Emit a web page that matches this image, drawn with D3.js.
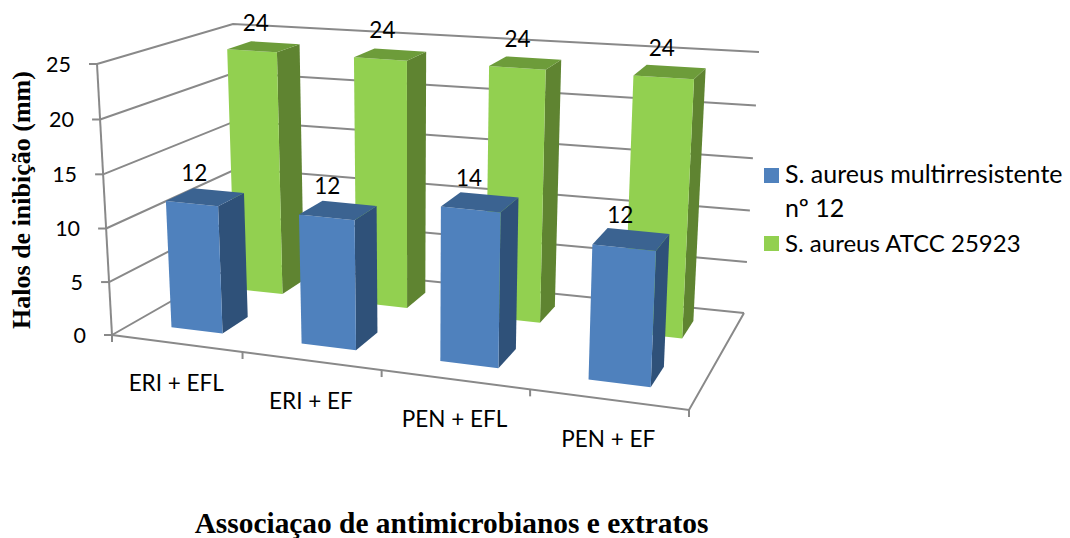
<!DOCTYPE html>
<html>
<head>
<meta charset="utf-8">
<title>Halos de inibição</title>
<script src="https://cdn.jsdelivr.net/npm/d3@7"></script>
<style>
  html, body { margin: 0; padding: 0; background: #fff; }
  svg { display: block; }
  text { font-family: Lato, "Open Sans", sans-serif; fill: #000; }
  .title { font-family: "Liberation Serif", serif; font-weight: bold; }
</style>
</head>
<body>
<svg width="1070" height="538"></svg>
<script>
const categories = ['ERI + EFL', 'ERI + EF', 'PEN + EFL', 'PEN + EF'];
const seriesNames = ['S. aureus ATCC 25923', 'S. aureus multirresistente nº 12'];
const atccValues = [24, 24, 24, 24];
const multiValues = [12, 12, 14, 12];
const valueTicks = [0, 5, 10, 15, 20, 25];

const colors = {
  'S. aureus multirresistente nº 12': { front: '#4f81bd', side: '#2f5179', top: '#3b6391' },
  'S. aureus ATCC 25923': { front: '#92d050', side: '#5f8431', top: '#6d9c3a' }
};

// corners of the chart box on screen, floor then top (front/back, left/right)
const floorBox = { fl: [112, 335], fr: [689, 410], bl: [240, 262], br: [744, 313] };
const topBox = { fl: [97, 64], fr: [702, 113], bl: [233, 24], br: [759, 52] };

// perspective foreshortening along each axis
function foreshorten(t, k) { return t / (t + k * (1 - t)); }

function mix(a, b, t) { return [a[0] + (b[0] - a[0]) * t, a[1] + (b[1] - a[1]) * t]; }

// u: along the categories, v: height, w: depth, all 0..1
function project(u, v, w) {
  const uu = foreshorten(u, 1.14), vv = foreshorten(v, 1.03), ww = foreshorten(w, 0.85);
  const low = mix(mix(floorBox.fl, floorBox.fr, uu), mix(floorBox.bl, floorBox.br, uu), ww);
  const high = mix(mix(topBox.fl, topBox.fr, uu), mix(topBox.bl, topBox.br, uu), ww);
  return mix(low, high, vv);
}

const x = d3.scaleBand().domain(categories).range([0, 1]).paddingInner(0.6).paddingOuter(0.3);
const z = d3.scaleBand().domain(seriesNames.slice().reverse()).range([0, 1]).paddingInner(0.6).paddingOuter(0.3);
const y = d3.scaleLinear().domain([0, 25]).range([0, 1]);

const svg = d3.select('svg');
const line = d3.line();
const gray = '#898989';

// walls: gridlines across the left and back sides
const grid = svg.append('g').attr('fill', 'none').attr('stroke', gray).attr('stroke-width', 2);
valueTicks.forEach(function (t) {
  const v = y(t);
  grid.append('path').attr('d', line([project(0, v, 0), project(0, v, 1), project(1, v, 1)]));
  // tick mark left of the value axis
  const p = project(0, v, 0);
  grid.append('path').attr('d', line([[p[0] - 8, p[1]], p]));
  svg.append('text')
    .attr('x', p[0] - 26)
    .attr('y', p[1])
    .attr('dy', '0.35em')
    .attr('text-anchor', 'end')
    .attr('font-size', 21.5)
    .text(t);
});

// floor outline and value axis
grid.append('path').attr('d', line([project(0, 0, 0), project(0, 1, 0)]));
grid.append('path').attr('d', line([project(0, 0, 0), project(1, 0, 0), project(1, 0, 1)]));

// category ticks and labels under the front edge
const step = x.step();
d3.range(categories.length + 1).forEach(function (i) {
  const p = project(i * step, 0, 0);
  grid.append('path').attr('d', line([p, [p[0], p[1] + 7]]));
});
categories.forEach(function (c) {
  const p = project(x(c) + x.bandwidth() / 2, 0, 0);
  svg.append('text')
    .attr('x', p[0])
    .attr('y', p[1] + 40)
    .attr('dy', '0.35em')
    .attr('text-anchor', 'middle')
    .attr('font-size', 22.5)
    .text(c);
});

function drawBar(cat, name, value) {
  const u0 = x(cat), u1 = u0 + x.bandwidth();
  const w0 = z(name), w1 = w0 + z.bandwidth();
  const v = y(value);
  const faces = [
    ['side', [[u1, 0, w0], [u1, 0, w1], [u1, v, w1], [u1, v, w0]]],
    ['front', [[u0, 0, w0], [u1, 0, w0], [u1, v, w0], [u0, v, w0]]],
    ['top', [[u0, v, w0], [u1, v, w0], [u1, v, w1], [u0, v, w1]]]
  ];
  const g = svg.append('g');
  faces.forEach(function (f) {
    const pts = f[1].map(function (c) { return project(c[0], c[1], c[2]); });
    g.append('path')
      .attr('d', line(pts) + 'Z')
      .attr('fill', colors[name][f[0]]);
  });
}

function drawLabel(cat, name, value, dx) {
  const u = x(cat) + x.bandwidth() / 2;
  const w = z(name) + z.bandwidth() / 2;
  const p = project(u, y(value), w);
  svg.append('text')
    .attr('x', p[0] + dx)
    .attr('y', p[1] - 24)
    .attr('dy', '0.35em')
    .attr('text-anchor', 'middle')
    .attr('font-size', 22.5)
    .text(value);
}

// back row first so the front row covers it
categories.forEach(function (c, i) { drawBar(c, seriesNames[0], atccValues[i]); });
categories.forEach(function (c, i) { drawLabel(c, seriesNames[0], atccValues[i], -8); });
categories.forEach(function (c, i) { drawBar(c, seriesNames[1], multiValues[i]); });
categories.forEach(function (c, i) { drawLabel(c, seriesNames[1], multiValues[i], -11); });

// legend
const legend = svg.append('g');
legend.append('rect').attr('x', 764).attr('y', 168).attr('width', 15).attr('height', 15).attr('fill', colors[seriesNames[1]].front);
legend.append('text').attr('x', 785).attr('y', 183).attr('font-size', 25).text('S. aureus multirresistente');
legend.append('text').attr('x', 785).attr('y', 217).attr('font-size', 25).text('nº 12');
legend.append('rect').attr('x', 764).attr('y', 236).attr('width', 15).attr('height', 15).attr('fill', colors[seriesNames[0]].front);
legend.append('text').attr('x', 785).attr('y', 252).attr('font-size', 24).text(seriesNames[0]);

// axis titles
svg.append('text')
  .attr('class', 'title')
  .attr('transform', 'translate(29.5,200) rotate(-90)')
  .attr('text-anchor', 'middle')
  .attr('font-size', 26)
  .text('Halos de inibição (mm)');
svg.append('text')
  .attr('class', 'title')
  .attr('x', 451.5)
  .attr('y', 533)
  .attr('text-anchor', 'middle')
  .attr('font-size', 29.4)
  .text('Associaçao de antimicrobianos e extratos');
</script>
</body>
</html>
